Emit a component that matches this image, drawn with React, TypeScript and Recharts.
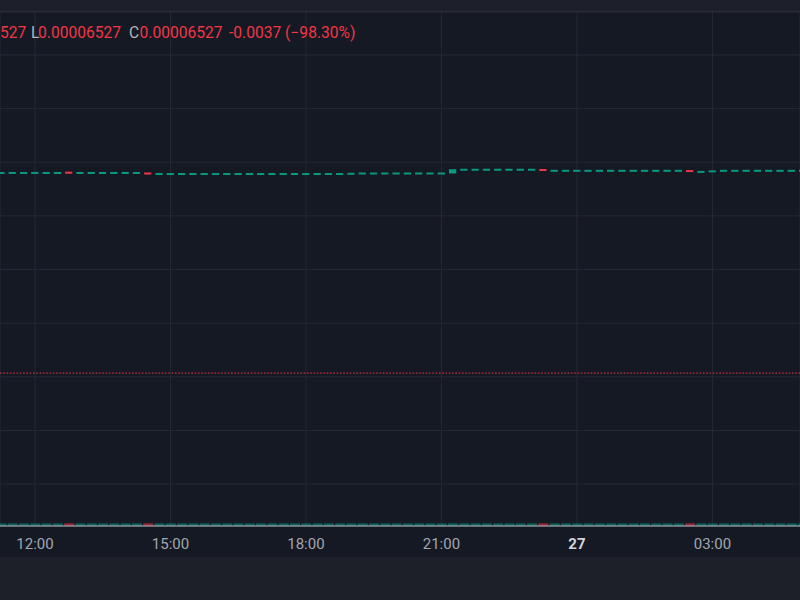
import {
  ComposedChart,
  Bar,
  XAxis,
  YAxis,
  CartesianGrid,
  ReferenceLine,
} from 'recharts';

// 15-minute candles from 11:15 to 05:00, prices in units of 1e-8
const OPEN = [
  6900, 6900, 6900, 6900, 6900, 6900, 6901, 6900, 6900, 6900, 6900, 6900, 6900,
  6900,
  6898, 6898, 6898, 6898, 6898, 6898, 6898, 6898, 6898, 6898, 6898, 6898, 6898, 6898, 6898, 6898, 6898,
  6898,
  6899, 6899, 6899, 6899, 6899, 6899, 6899, 6899,
  6899,
  6906, 6906, 6906, 6906, 6906, 6906, 6906,
  6906,
  6904, 6904, 6904, 6904, 6904, 6904, 6904, 6904, 6904, 6904, 6904, 6904,
  6904,
  6902, 6903,
  6904, 6904, 6904, 6904, 6904, 6904, 6904, 6904,
];

const CLOSE = [
  6900, 6900, 6900, 6900, 6900, 6900, 6900, 6900, 6900, 6900, 6900, 6900, 6900,
  6898,
  6898, 6898, 6898, 6898, 6898, 6898, 6898, 6898, 6898, 6898, 6898, 6898, 6898, 6898, 6898, 6898, 6898,
  6899,
  6899, 6899, 6899, 6899, 6899, 6899, 6899, 6899,
  6907,
  6906, 6906, 6906, 6906, 6906, 6906, 6906,
  6905,
  6904, 6904, 6904, 6904, 6904, 6904, 6904, 6904, 6904, 6904, 6904, 6904,
  6903,
  6902, 6903,
  6904, 6904, 6904, 6904, 6904, 6904, 6904, 6904,
];

const VOLUME = [
  5200, 5210, 5190, 5200, 5205, 5200, 5220, 5200, 5195, 5200, 5210, 5200, 5200,
  5230,
  5200, 5190, 5200, 5200, 5205, 5200, 5195, 5200, 5200, 5210, 5200, 5200, 5190, 5200, 5200, 5205, 5200,
  5200,
  5200, 5210, 5200, 5195, 5200, 5200, 5205, 5200,
  5260,
  5200, 5200, 5210, 5200, 5195, 5200, 5200,
  5220,
  5200, 5205, 5200, 5200, 5190, 5200, 5200, 5210, 5200, 5200, 5195, 5200,
  5220,
  5200, 5200,
  5205, 5200, 5200, 5200, 5210, 5200, 5195, 5200,
];

const PRICE_TICKS = [6320, 6420, 6520, 6620, 6720, 6820, 6920, 7020, 7120];
const LAST_PRICE = 6527;

const TIME_TICKS = [3, 15, 27, 39, 51, 63];
const TIME_LABELS = ['12:00', '15:00', '18:00', '21:00', '27', '03:00'];
const BOLD_LABELS = ['27'];

const UP = '#089981';
const DOWN = '#f23645';

const data = OPEN.map((open, i) => ({
  i,
  open,
  close: CLOSE[i],
  volume: VOLUME[i],
}));

function Candle(props: any) {
  const { x, y, width, height, payload } = props;
  const up = payload.close >= payload.open;
  const cx = x + width / 2;
  const top0 = Math.min(y, y + height);
  const h0 = Math.abs(height);
  const h = Math.max(h0, 2);
  const top = top0 + h0 / 2 - h / 2;
  return <rect x={cx - 3.6} y={top} width={7.2} height={h} fill={up ? UP : DOWN} />;
}

function VolumeBar(props: any) {
  const { x, y, width, height, payload } = props;
  const up = payload.close >= payload.open;
  const cx = x + width / 2;
  return (
    <rect
      x={cx - 5}
      y={y}
      width={10}
      height={height}
      fill={up ? UP : DOWN}
      fillOpacity={0.55}
    />
  );
}

function TimeTick(props: any) {
  const { x, y, payload } = props;
  const label = TIME_LABELS[TIME_TICKS.indexOf(payload.value)];
  const bold = BOLD_LABELS.includes(label);
  return (
    <text
      x={x}
      y={y + 20.5}
      textAnchor="middle"
      fontFamily="Roboto"
      fontSize={15}
      fontWeight={bold ? 700 : 400}
      fill={bold ? '#d1d4dc' : '#a3a6af'}
    >
      {label}
    </text>
  );
}

const X_DOMAIN = [-0.0974, 70.76];

export default function App() {
  return (
    <div
      style={{
        position: 'absolute',
        left: 0,
        top: 0,
        width: 800,
        height: 600,
        background: '#1e2029',
        overflow: 'hidden',
      }}
    >
      <div
        style={{
          position: 'absolute',
          left: 0,
          top: 0,
          width: 800,
          height: 11,
          background: '#1d202a',
          borderBottom: '1px solid #2a2d38',
        }}
      />
      <div
        style={{
          position: 'absolute',
          left: 0,
          top: 12,
          width: 800,
          height: 545,
          background: '#151924',
        }}
      >
        <ComposedChart
          width={800}
          height={545}
          data={data}
          margin={{ top: 0, right: 0, bottom: 0, left: 0 }}
        >
          <CartesianGrid stroke="#252934" />
          <XAxis
            dataKey="i"
            type="number"
            domain={X_DOMAIN}
            allowDataOverflow
            ticks={TIME_TICKS}
            tick={<TimeTick />}
            tickLine={false}
            tickSize={0}
            height={31}
            axisLine={{ stroke: '#b8bbc2' }}
            interval={0}
          />
          <XAxis
            xAxisId="vol"
            dataKey="i"
            type="number"
            domain={X_DOMAIN}
            allowDataOverflow
            hide
          />
          <YAxis
            type="number"
            domain={[6242, 7200]}
            ticks={PRICE_TICKS}
            allowDataOverflow
            hide
          />
          <YAxis yAxisId="vol" type="number" domain={[0, 1000000]} hide />
          <ReferenceLine
            y={LAST_PRICE}
            stroke={DOWN}
            strokeDasharray="1.6 1.7"
            strokeWidth={1}
          />
          <Bar
            xAxisId="vol"
            yAxisId="vol"
            dataKey="volume"
            barSize={10}
            shape={<VolumeBar />}
            isAnimationActive={false}
          />
          <Bar
            dataKey={(d: any) => [Math.min(d.open, d.close), Math.max(d.open, d.close)]}
            barSize={7}
            shape={<Candle />}
            isAnimationActive={false}
          />
        </ComposedChart>
      </div>
      <svg
        width={800}
        height={60}
        style={{ position: 'absolute', left: 0, top: 0, pointerEvents: 'none' }}
      >
        <g fontFamily="Roboto" fontSize={15.6}>
          <text x={0} y={37.5} fill={DOWN}>527</text>
          <text x={31} y={37.5} fill="#b2b5be">L</text>
          <text x={38} y={37.5} fill={DOWN}>0.00006527</text>
          <text x={129} y={37.5} fill="#b2b5be">C</text>
          <text x={139.5} y={37.5} fill={DOWN}>0.00006527</text>
          <text x={229} y={37.5} fill={DOWN}>-0.0037 (−98.30%)</text>
        </g>
      </svg>
    </div>
  );
}
